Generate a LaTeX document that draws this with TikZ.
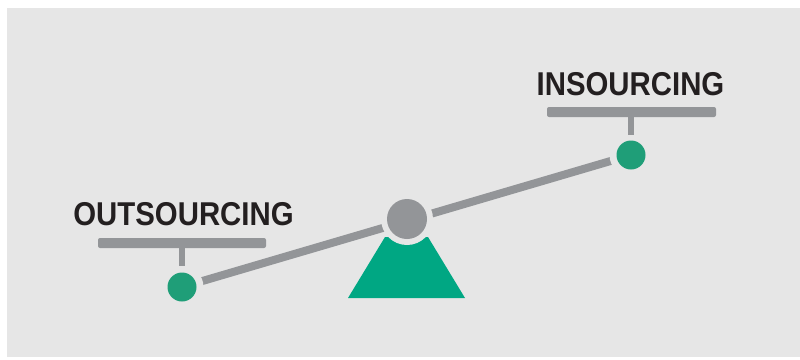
\documentclass[tikz,border=0pt]{standalone}
\usepackage{fontspec}
\newfontfamily\labfont[FakeStretch=0.89]{Liberation Sans}
\definecolor{bg}{HTML}{E6E6E6}
\definecolor{barg}{HTML}{939598}
\definecolor{dotg}{HTML}{1F9E78}
\definecolor{trig}{HTML}{00A783}
\definecolor{txt}{HTML}{231F20}
\tikzset{
  lab/.style={font=\labfont\bfseries\fontsize{33}{33}\selectfont, text=txt, inner sep=0pt, anchor=base},
  dotnode/.style={circle, fill=dotg, inner sep=0pt, minimum size=29pt},
  halo/.style={circle, fill=bg, inner sep=0pt, minimum size=#1},
  beam/.style={draw=barg, line width=8pt},
  barline/.style={fill=barg, rounded corners=2pt},
  stem/.style={draw=barg, line width=6pt}
}
\begin{document}
\begin{tikzpicture}[x=1pt,y=1pt]
\useasboundingbox (0,0) rectangle (800,-359);
\fill[bg] (7,-8) rectangle (800,-357);
% beam
\coordinate (lc) at (182,-287);
\coordinate (rc) at (631,-155);
\coordinate (pc) at (407,-219);
\draw[beam] (lc) -- (rc);
% trapezoid
\fill[trig] (385,-237) -- (428,-237) -- (465,-298) -- (348,-298) -- cycle;
% pivot
\node[halo=52pt] at (pc) {};
\node[circle, fill=barg, inner sep=0pt, minimum size=40pt] (piv) at (pc) {};
% dots with halos
\node[halo=43pt] at (lc) {};
\node[halo=43pt] at (rc) {};
\node[dotnode] (ld) at (lc) {};
\node[dotnode] (rd) at (rc) {};
% label bars
\fill[barline] (98,-238) rectangle (266,-248);
\fill[barline] (547,-107) rectangle (716,-117);
\coordinate (lbar) at (182,-248);
\coordinate (rbar) at (631,-117);
\draw[stem] (lbar) -- ++(0,-18);
\draw[stem] (rbar) -- ++(0,-18);
% labels
\node[lab] (out) at (183.5,-225) {OUTSOURCING};
\node[lab] (ins) at (630.5,-95) {INSOURCING};
\end{tikzpicture}
\end{document}
